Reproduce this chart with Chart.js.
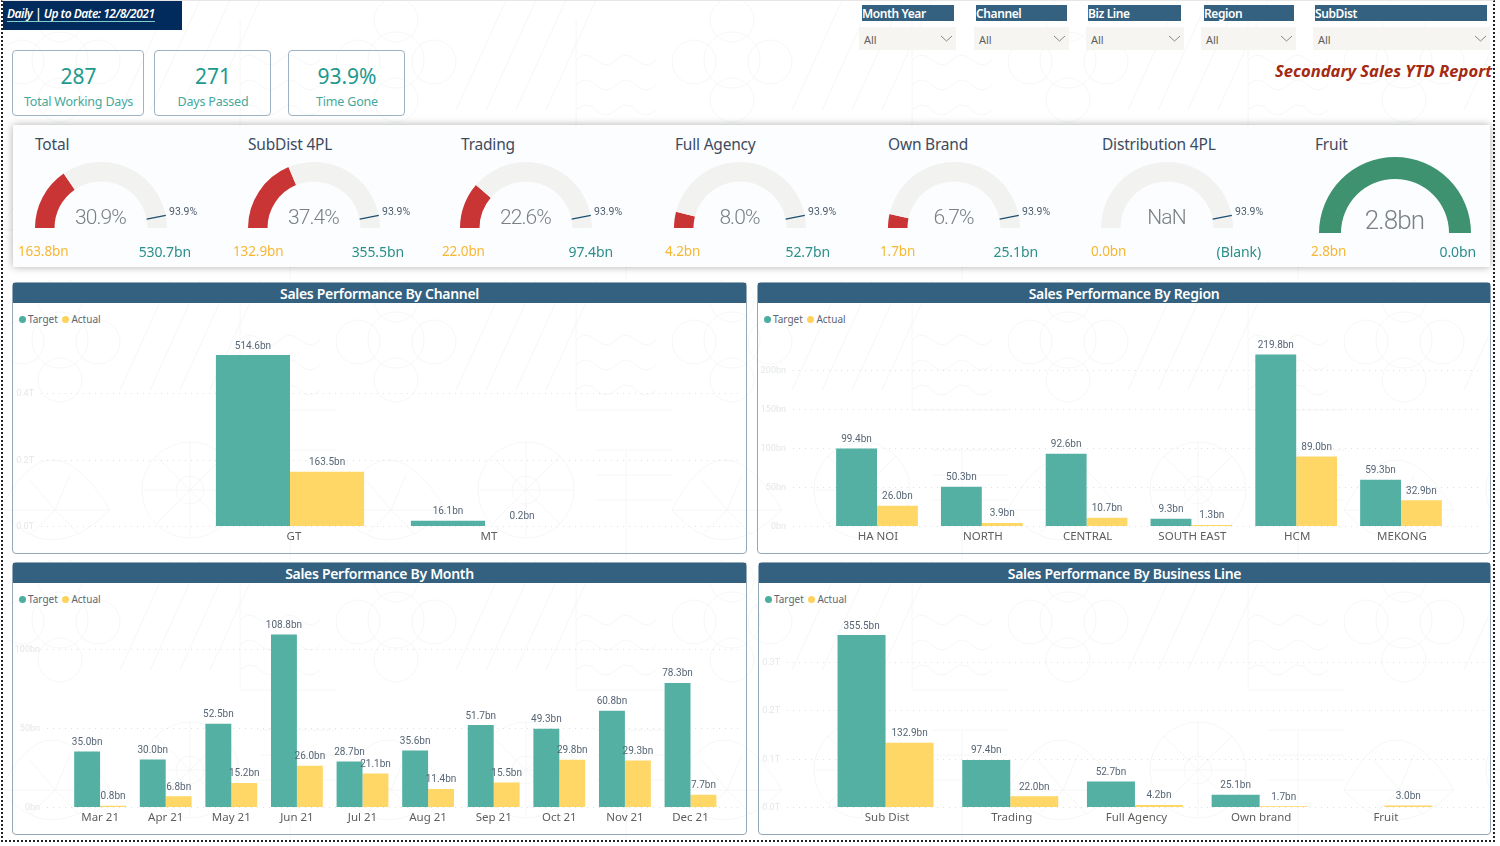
<!DOCTYPE html>
<html>
<head>
<meta charset="utf-8">
<title>Secondary Sales YTD Report</title>
<script src="https://cdn.jsdelivr.net/npm/chart.js"></script>
<style>
  html, body { margin: 0; padding: 0; background: #fff; }
  body { width: 1500px; height: 846px; position: relative; overflow: hidden; font-family: "Noto Sans", sans-serif; }
  #page { position: absolute; left: 0; top: 0; width: 1500px; height: 846px; }
  #frame { position: absolute; left: 1px; top: 0; width: 1494px; height: 842px; border-left: 2px dotted #222; border-right: 2px dotted #222; border-bottom: 2px dotted #222; border-top: 1px solid #e6e6e6; box-sizing: border-box; }
  .abs { position: absolute; white-space: nowrap; }
  .center { transform: translate(-50%, -50%); }
  .vmid { transform: translateY(-50%); }
  .kpi { border: 1.5px solid #9db2c3; border-radius: 4px; box-sizing: border-box; }
  .slicerHead { background: #33617f; color: #fff; font: 600 12px "Noto Sans", sans-serif; height: 16px; line-height: 18px; letter-spacing: -0.4px; }
  .slicerBox { background: #f7f5f1; height: 23px; color: #605e5c; font-size: 11px; line-height: 26px; text-indent: 5px; }
  .panel { border: 1.5px solid #93a9b9; border-radius: 4px; box-sizing: border-box; }
  .panelHead { background: #33617f; color: #fff; font: 600 14px "Noto Sans", sans-serif; height: 20px; line-height: 22px; text-align: center; letter-spacing: -0.3px; }
  .legend { font-size: 10px; color: #5c6670; }
  .dot { display: inline-block; width: 7px; height: 7px; border-radius: 50%; margin-right: 2px; }
  canvas { position: absolute; display: block; }
</style>
</head>
<body>
<div id="page"></div>
<div id="frame"></div>
<script>
// ---- data ----
const legendNames = ['Target', 'Actual'];

const channelLabels = ['GT', 'MT'];
const channelTarget = [514.6, 16.1];
const channelActual = [163.5, 0.2];
const channelTicks = [0, 200, 400];
const channelTickLabels = ['0.0T', '0.2T', '0.4T'];

const regionLabels = ['HA NOI', 'NORTH', 'CENTRAL', 'SOUTH EAST', 'HCM', 'MEKONG'];
const regionTarget = [99.4, 50.3, 92.6, 9.3, 219.8, 59.3];
const regionActual = [26.0, 3.9, 10.7, 1.3, 89.0, 32.9];
const regionTicks = [0, 50, 100, 150, 200];
const regionTickLabels = ['0bn', '50bn', '100bn', '150bn', '200bn'];

const monthLabels = ['Mar 21', 'Apr 21', 'May 21', 'Jun 21', 'Jul 21', 'Aug 21', 'Sep 21', 'Oct 21', 'Nov 21', 'Dec 21'];
const monthTarget = [35.0, 30.0, 52.5, 108.8, 28.7, 35.6, 51.7, 49.3, 60.8, 78.3];
const monthActual = [0.8, 6.8, 15.2, 26.0, 21.1, 11.4, 15.5, 29.8, 29.3, 7.7];
const monthTicks = [0, 50, 100];
const monthTickLabels = ['0bn', '50bn', '100bn'];

const bizLabels = ['Sub Dist', 'Trading', 'Full Agency', 'Own brand', 'Fruit'];
const bizTarget = [355.5, 97.4, 52.7, 25.1, null];
const bizActual = [132.9, 22.0, 4.2, 1.7, 3.0];
const bizTicks = [0, 100, 200, 300];
const bizTickLabels = ['0.0T', '0.1T', '0.2T', '0.3T'];

const gaugeNames = ['Total', 'SubDist 4PL', 'Trading', 'Full Agency', 'Own Brand', 'Distribution 4PL', 'Fruit'];
const gaugeActual = [163.8, 132.9, 22.0, 4.2, 1.7, 0, 2.8];
const gaugeTarget = [530.7, 355.5, 97.4, 52.7, 25.1, 0, 0];
const gaugeCenterText = ['30.9%', '37.4%', '22.6%', '8.0%', '6.7%', 'NaN', '2.8bn'];
const gaugeActualText = ['163.8bn', '132.9bn', '22.0bn', '4.2bn', '1.7bn', '0.0bn', '2.8bn'];
const gaugeTargetText = ['530.7bn', '355.5bn', '97.4bn', '52.7bn', '25.1bn', '(Blank)', '0.0bn'];
const timeGone = 0.939;
const timeGoneText = '93.9%';

const kpiValues = ['287', '271', '93.9%'];
const kpiNames = ['Total Working Days', 'Days Passed', 'Time Gone'];
const slicerNames = ['Month Year', 'Channel', 'Biz Line', 'Region', 'SubDist'];

// ---- colours ----
const TEAL = '#53b0a3';
const YELLOW = '#ffd766';
const RED = '#c93434';
const GREEN = '#3f9270';
const TRACK = '#f2f2f0';
const LABEL_FONT = 'Roboto, sans-serif';

const page = document.getElementById('page');

function el(cls, css, text) {
  const d = document.createElement('div');
  d.className = 'abs ' + cls;
  d.style.cssText = css;
  if (text !== undefined) d.textContent = text;
  page.appendChild(d);
  return d;
}

// background line art, very faint like the report wallpaper
const tile = `<svg xmlns="http://www.w3.org/2000/svg" width="336" height="280" fill="none" stroke="#f5f6f6" stroke-width="1">
<circle cx="60" cy="60" r="28"/><circle cx="60" cy="20" r="22"/><circle cx="22" cy="62" r="22"/><circle cx="98" cy="62" r="22"/><circle cx="60" cy="100" r="22"/>
<path d="M170 0L120 110M200 0L150 110M230 0L180 110M260 0L210 110"/>
<path d="M240 60q10-10 20 0t20 0t20 0t20 0M240 85q10-10 20 0t20 0t20 0t20 0M240 110q10-10 20 0t20 0t20 0t20 0M240 20V130H336"/>
<path d="M0 230Q50 130 110 230Q50 290 0 230ZM0 230H110M30 200L55 230M70 195L55 230M30 255L55 230M80 255L55 230"/>
<circle cx="190" cy="210" r="48"/><circle cx="190" cy="210" r="14"/><path d="M190 162V258M142 210H238M156 176L224 244M224 176L156 244"/>
<path d="M260 170H336M260 195H336M260 220H336M290 170V280"/></svg>`;
document.body.style.backgroundImage = 'url("data:image/svg+xml,' + encodeURIComponent(tile) + '")';

// ---- header area ----
el('', 'left:3px;top:1px;width:179px;height:29px;background:#002b5c');
el('', 'left:7px;top:6px;color:#fff;font:italic 600 12px \'Noto Sans\',sans-serif;letter-spacing:-0.5px;border-bottom:1px solid #7fd0c8;line-height:15px', 'Daily | Up to Date: 12/8/2021');

const kpiBoxes = [[12, 132], [154, 117], [288, 117]];
kpiBoxes.forEach((b, i) => {
  el('kpi', `left:${b[0]}px;top:50px;width:${b[1]}px;height:66px`);
  const cx = b[0] + b[1] / 2 + 0.5;
  el('center', `left:${cx}px;top:76px;color:#1d9a8e;font-size:21px`, kpiValues[i]);
  el('center', `left:${cx}px;top:101px;color:#45a89c;font-size:12.5px;letter-spacing:-0.2px`, kpiNames[i]);
});

const slicerHeads = [[862, 92], [976, 91], [1088, 93], [1204, 90], [1315, 172]];
const slicerBoxes = [[859, 97], [974, 95], [1086, 98], [1201, 95], [1313, 177]];
slicerNames.forEach((name, i) => {
  el('slicerHead', `left:${slicerHeads[i][0]}px;top:5px;width:${slicerHeads[i][1]}px`, name);
  el('slicerBox', `left:${slicerBoxes[i][0]}px;top:27px;width:${slicerBoxes[i][1]}px`, 'All');
  const chev = el('', `left:${slicerBoxes[i][0] + slicerBoxes[i][1] - 16}px;top:35px;width:13px;height:7px`);
  chev.innerHTML = '<svg width="13" height="7" style="display:block"><path d="M1 1L6.5 6L12 1" fill="none" stroke="#888" stroke-width="1"/></svg>';
});
el('', 'right:8px;top:59px;color:#a52a12;font:italic 700 16.6px \'Noto Sans\',sans-serif', 'Secondary Sales YTD Report');

// ---- gauges ----
el('', 'left:13px;top:125px;width:1477px;height:142px;background:rgba(252,253,254,0.88);box-shadow:0 0 8px rgba(0,0,0,0.32)');

const gaugeCx = [101, 314, 526, 740, 954, 1167, 1395];
const gaugeTitleX = [35, 248, 461, 675, 888, 1102, 1315];
const gaugeLeftX = [18, 233, 442, 665, 880, 1091, 1311];
const gaugeRightEnd = [191, 404, 613, 830, 1038, 1261, 1476];

const targetTick = {
  id: 'targetTick',
  afterDatasetsDraw(chart, args, opts) {
    if (!opts.show) return;
    const arc = chart.getDatasetMeta(0).data[0];
    const a = Math.PI * (timeGone - 1);
    const c = chart.ctx;
    c.save();
    c.strokeStyle = '#1c4f70';
    c.lineWidth = 1.4;
    c.beginPath();
    c.moveTo(arc.x + Math.cos(a) * arc.innerRadius, arc.y + Math.sin(a) * arc.innerRadius);
    c.lineTo(arc.x + Math.cos(a) * arc.outerRadius, arc.y + Math.sin(a) * arc.outerRadius);
    c.stroke();
    c.restore();
  }
};

gaugeNames.forEach((name, i) => {
  const isFruit = gaugeTarget[i] === 0 && gaugeActual[i] > 0;
  const R = isFruit ? 76 : 66;
  const inner = isFruit ? 54 : 46.5;
  const base = isFruit ? 233 : 228;
  const cv = document.createElement('canvas');
  cv.width = R * 2;
  cv.height = R;
  cv.style.left = (gaugeCx[i] - R) + 'px';
  cv.style.top = (base - R) + 'px';
  page.appendChild(cv);
  const rest = gaugeTarget[i] > 0 ? gaugeTarget[i] - gaugeActual[i] : (gaugeActual[i] > 0 ? 0 : 1);
  new Chart(cv, {
    type: 'doughnut',
    plugins: [targetTick],
    data: {
      labels: ['Actual', 'Remaining'],
      datasets: [{
        data: [gaugeActual[i], rest],
        backgroundColor: [isFruit ? GREEN : RED, TRACK],
        borderWidth: 0
      }]
    },
    options: {
      responsive: false,
      animation: false,
      rotation: -90,
      circumference: 180,
      cutout: (inner / R * 100) + '%',
      layout: { padding: 0 },
      plugins: { legend: { display: false }, tooltip: { enabled: false }, targetTick: { show: !isFruit } }
    }
  });

  el('vmid', `left:${gaugeTitleX[i]}px;top:144px;color:#3c4c5e;font-size:15.5px;letter-spacing:-0.2px`, name);
  const big = isFruit ? 26 : 21;
  el('center', `left:${gaugeCx[i] - 0.5}px;top:${isFruit ? 220 : 217}px;color:#7b8086;font:300 ${big}px ${LABEL_FONT};letter-spacing:-0.9px`, gaugeCenterText[i]);
  if (!isFruit) el('vmid', `left:${gaugeCx[i] + 68}px;top:211px;color:#4d5d6d;font:10.5px ${LABEL_FONT}`, timeGoneText);
  el('vmid', `left:${gaugeLeftX[i]}px;top:251px;color:#f7b733;font-size:13.5px;letter-spacing:-0.1px`, gaugeActualText[i]);
  el('vmid', `right:${1500 - gaugeRightEnd[i]}px;top:251px;color:#2b8f8a;font-size:14px;letter-spacing:-0.1px`, gaugeTargetText[i]);
});

// ---- bar panels ----
const gridAndLabels = {
  id: 'gridAndLabels',
  beforeDatasetsDraw(chart, args, opts) {
    const c = chart.ctx, y = chart.scales.y;
    c.save();
    c.font = '9px ' + LABEL_FONT;
    c.textAlign = 'right';
    c.textBaseline = 'middle';
    opts.ticks.forEach((t, i) => {
      const py = Math.round(y.getPixelForValue(t)) + 0.5;
      c.strokeStyle = '#dfe2e4';
      c.lineWidth = 1;
      c.setLineDash([1, 5]);
      c.beginPath();
      c.moveTo(opts.gridLeft, py);
      c.lineTo(opts.gridRight, py);
      c.stroke();
      c.fillStyle = '#e4e6e8';
      c.fillText(opts.tickLabels[i], opts.gridLeft - 7, py);
    });
    c.restore();
  },
  afterDatasetsDraw(chart) {
    const c = chart.ctx;
    c.save();
    c.font = '10px ' + LABEL_FONT;
    c.fillStyle = '#566575';
    c.textAlign = 'center';
    c.textBaseline = 'bottom';
    chart.data.datasets.forEach((ds, di) => {
      chart.getDatasetMeta(di).data.forEach((bar, i) => {
        if (ds.data[i] === null) return;
        c.fillText(ds.data[i].toFixed(1) + 'bn', bar.x, bar.y - 4);
      });
    });
    c.restore();
  }
};

function barPanel(p) {
  el('panel', `left:${p.x}px;top:${p.y}px;width:${p.w}px;height:${p.h}px`);
  el('panelHead', `left:${p.x + 1}px;top:${p.y + 1}px;width:${p.w - 2}px`, p.title);
  const lg = el('legend', `left:${p.x + 7}px;top:${p.y + 30}px`);
  lg.innerHTML = `<span class="dot" style="background:#4dae9f"></span>${legendNames[0]} <span class="dot" style="background:#ffd25f;margin-left:2px"></span>${legendNames[1]}`;

  const cv = document.createElement('canvas');
  const top = p.y + 22, bottom = p.y + p.h - 1;
  cv.width = p.w - 2;
  cv.height = bottom - top;
  cv.style.left = (p.x + 1) + 'px';
  cv.style.top = top + 'px';
  page.appendChild(cv);
  const x0 = p.x + 1;

  new Chart(cv, {
    type: 'bar',
    plugins: [gridAndLabels],
    data: {
      labels: p.labels,
      datasets: [
        { label: legendNames[0], data: p.target, backgroundColor: TEAL, categoryPercentage: p.catPct, barPercentage: 1 },
        { label: legendNames[1], data: p.actual, backgroundColor: YELLOW, categoryPercentage: p.catPct, barPercentage: 1 }
      ]
    },
    options: {
      responsive: false,
      animation: false,
      layout: {
        padding: {
          left: p.catLeft - x0,
          right: x0 + (p.w - 2) - p.catRight,
          top: p.base - p.yMax * p.pxPer - top,
          bottom: 0
        }
      },
      scales: {
        x: {
          grid: { display: false, drawTicks: false },
          border: { display: false },
          afterFit: s => { s.height = bottom - p.base; },
          ticks: { color: '#605e5c', font: { family: '"Noto Sans", sans-serif', size: 11.5 }, padding: 4, maxRotation: 0, autoSkip: false, labelOffset: p.labelShift }
        },
        y: { display: false, min: 0, max: p.yMax }
      },
      plugins: {
        legend: { display: false },
        tooltip: { enabled: false },
        gridAndLabels: { ticks: p.ticks, tickLabels: p.tickLabels, gridLeft: p.gridLeft - x0, gridRight: p.gridRight - x0 }
      }
    }
  });
}

barPanel({
  title: 'Sales Performance By Channel', x: 12, y: 282, w: 735, h: 272,
  labels: channelLabels, target: channelTarget, actual: channelActual, ticks: channelTicks, tickLabels: channelTickLabels,
  catLeft: 192.5, catRight: 582.5, catPct: 0.76, labelShift: 4, base: 526, yMax: 550, pxPer: 171 / 514.6, gridLeft: 41, gridRight: 740
});
barPanel({
  title: 'Sales Performance By Region', x: 757, y: 282, w: 734, h: 272,
  labels: regionLabels, target: regionTarget, actual: regionActual, ticks: regionTicks, tickLabels: regionTickLabels,
  catLeft: 824.6, catRight: 1453.4, catPct: 0.78, labelShift: 1, base: 526, yMax: 235, pxPer: 0.78, gridLeft: 793, gridRight: 1483
});
barPanel({
  title: 'Sales Performance By Month', x: 12, y: 562, w: 735, h: 273,
  labels: monthLabels, target: monthTarget, actual: monthActual, ticks: monthTicks, tickLabels: monthTickLabels,
  catLeft: 67.3, catRight: 723.3, catPct: 0.79, labelShift: 0, base: 807, yMax: 115, pxPer: 1.585, gridLeft: 47, gridRight: 740
});
barPanel({
  title: 'Sales Performance By Business Line', x: 758, y: 562, w: 733, h: 273,
  labels: bizLabels, target: bizTarget, actual: bizActual, ticks: bizTicks, tickLabels: bizTickLabels,
  catLeft: 823.2, catRight: 1446.7, catPct: 0.77, labelShift: 1.5, base: 807, yMax: 375, pxPer: 172 / 355.5, gridLeft: 787, gridRight: 1485
});
</script>
</body>
</html>
